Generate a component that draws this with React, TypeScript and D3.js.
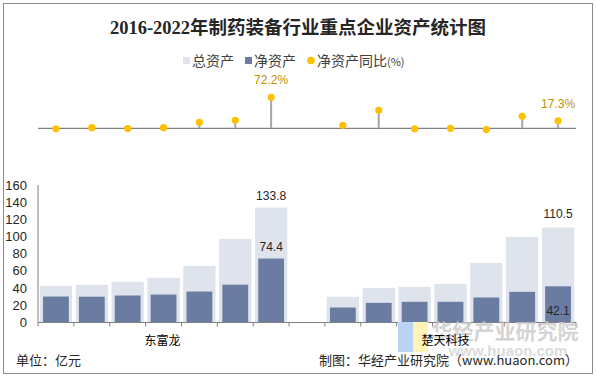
import React from 'react';
import * as d3 from 'd3';

const years = ['2016', '2017', '2018', '2019', '2020', '2021', '2022'];
const companies = ['东富龙', '楚天科技'];
const dflTotal = [42.5, 43.8, 47.3, 52.0, 65.9, 97.3, 133.8];
const dflNet = [30.2, 30.0, 31.4, 32.5, 36.0, 44.0, 74.4];
const dflYoy = [-1.0, 1.5, -0.5, 1.5, 14.0, 18.6, 72.2];
const ctTotal = [29.9, 40.3, 41.5, 45.0, 69.4, 99.6, 110.5];
const ctNet = [17.4, 22.9, 24.1, 24.1, 29.1, 35.7, 42.1];
const ctYoy = [7.0, 41.8, -1.0, 0.0, -3.0, 28.0, 17.3];
const yTicks = [0, 20, 40, 60, 80, 100, 120, 140, 160];

const W = 596;
const H = 377;
const SANS = '"Liberation Sans", Arial, "Noto Sans CJK SC", sans-serif';
const CJK = '"Noto Sans CJK SC", "Liberation Sans", sans-serif';

type Row = { key: string; company: number; year: number; total: number; net: number; yoy: number };

const rows: Row[] = [];
years.forEach((y, i) => rows.push({ key: `a${i}`, company: 0, year: i, total: dflTotal[i], net: dflNet[i], yoy: dflYoy[i] }));
const gapKey = 'gap';
years.forEach((y, i) => rows.push({ key: `b${i}`, company: 1, year: i, total: ctTotal[i], net: ctNet[i], yoy: ctYoy[i] }));
const domainKeys = [...rows.slice(0, 7).map(r => r.key), gapKey, ...rows.slice(7).map(r => r.key)];

export default function App() {
  const x = d3.scaleBand<string>().domain(domainKeys).range([38, 576]).padding(0);
  const bw = x.bandwidth();
  const y = d3.scaleLinear().domain([0, 160]).range([322.5, 185]);
  const yy = d3.scaleLinear().domain([0, 72.2]).range([128.3, 97.3]);
  const boundaries = d3.range(domainKeys.length + 1).map(i => 38 + i * bw);
  const totalW = bw * 0.9;
  const netW = bw * 0.72;

  const lastA = rows[6];
  const lastB = rows[13];
  const cx = (k: string) => (x(k) as number) + bw / 2;

  const companyCenter = (c: number) => {
    const ks = rows.filter(r => r.company === c).map(r => r.key);
    return ((x(ks[0]) as number) + (x(ks[ks.length - 1]) as number) + bw) / 2;
  };

  return (
    <div style={{ position: 'absolute', left: 0, top: 0 }}>
      <svg width={W} height={H} style={{ display: 'block', background: '#fff' }}>
        <rect x={3.5} y={3.5} width={589} height={370} fill="#fff" stroke="#8c8c8c" strokeWidth={1} />
        <text x={298} y={34} textAnchor="middle" fontFamily={'"Liberation Serif", "Noto Sans CJK SC", serif'} fontWeight="bold" fontSize={18.5} fill="#262626">
          2016-2022年制药装备行业重点企业资产统计图
        </text>

        {/* legend */}
        <g fontFamily={CJK} fontSize={14} fill="#404040">
          <rect x={183} y={57} width={7} height={7} fill="#dfe3ec" />
          <text x={192} y={66}>总资产</text>
          <rect x={245} y={57} width={7} height={7} fill="#6a7ca1" />
          <text x={254} y={66}>净资产</text>
          <circle cx={311} cy={60.5} r={3.8} fill="#ffc000" />
          <text x={317} y={66}>净资产同比<tspan fontSize={11}>(%)</tspan></text>
        </g>

        {/* lollipop */}
        <line x1={38} x2={576} y1={128.3} y2={128.3} stroke="#808080" strokeWidth={1.2} />
        {rows.map(r => (
          <g key={'l' + r.key}>
            <line x1={cx(r.key)} x2={cx(r.key)} y1={128.3} y2={yy(r.yoy)} stroke="#a6a6a6" strokeWidth={2} />
            <circle cx={cx(r.key)} cy={yy(r.yoy)} r={3.6} fill="#ffc000" />
          </g>
        ))}
        {[lastA, lastB].map(r => (
          <text key={'yl' + r.key} x={cx(r.key)} y={yy(r.yoy) - 13} textAnchor="middle" fontFamily={SANS} fontSize={12} fill="#bf9000">
            {r.yoy.toFixed(1)}%
          </text>
        ))}

        {/* bars */}
        {rows.map(r => (
          <g key={'b' + r.key}>
            <rect x={cx(r.key) - totalW / 2} y={y(r.total)} width={totalW} height={y(0) - y(r.total)} fill="#dfe3ec" />
            <rect x={cx(r.key) - netW / 2} y={y(r.net)} width={netW} height={y(0) - y(r.net)} fill="#6a7ca1" />
          </g>
        ))}
        <g fontFamily={SANS} fontSize={12} fill="#262626" textAnchor="middle">
          <text x={cx(lastA.key)} y={y(lastA.total) - 8}>{lastA.total.toFixed(1)}</text>
          <text x={cx(lastA.key)} y={y(lastA.net) - 8}>{lastA.net.toFixed(1)}</text>
          <text x={cx(lastB.key)} y={y(lastB.total) - 10}>{lastB.total.toFixed(1)}</text>
          <text x={cx(lastB.key)} y={y(0) - 8}>{lastB.net.toFixed(1)}</text>
        </g>

        {/* y axis */}
        <line x1={38} x2={38} y1={185} y2={322.5} stroke="#808080" />
        <g fontFamily={SANS} fontSize={13} fill="#262626" textAnchor="end">
          {yTicks.map(t => (
            <text key={t} x={27} y={y(t) + 4.5}>{t}</text>
          ))}
        </g>
        {/* x axis */}
        <line x1={38} x2={576} y1={322.5} y2={322.5} stroke="#808080" />
        {boundaries.map((b, i) => (
          <line key={i} x1={b} x2={b} y1={322.5} y2={326.5} stroke="#808080" />
        ))}

        {/* watermark */}
        <g>
          <rect x={398} y={322} width={15} height={30} fill="#b8d4f2" />
          <polygon points="413,322 428,322 428,352 413,352" fill="#fff3b8" />
          <text x={505} y={339} textAnchor="middle" fontFamily={CJK} fontWeight="bold" fontSize={21} fill="#c8c8c8" fillOpacity={0.8}>华经产业研究院</text>
          <text x={508} y={356} textAnchor="middle" fontFamily={SANS} fontWeight="bold" fontSize={15} fill="#d2d2d2" fillOpacity={0.8}>www.huaon.com</text>
        </g>

        {companies.map((c, i) => (
          <text key={c} x={companyCenter(i) - (i === 0 ? 1 : 5)} y={345} textAnchor="middle" fontFamily={CJK} fontSize={12} fill="#000">{c}</text>
        ))}

        {/* footer */}
        <text x={16} y={365} fontFamily={CJK} fontSize={13} fill="#262626">单位：亿元</text>
        <text x={578} y={365} textAnchor="end" fontFamily={CJK} fontSize={13} fill="#262626">制图：华经产业研究院（www.huaon.com）</text>
      </svg>
    </div>
  );
}
